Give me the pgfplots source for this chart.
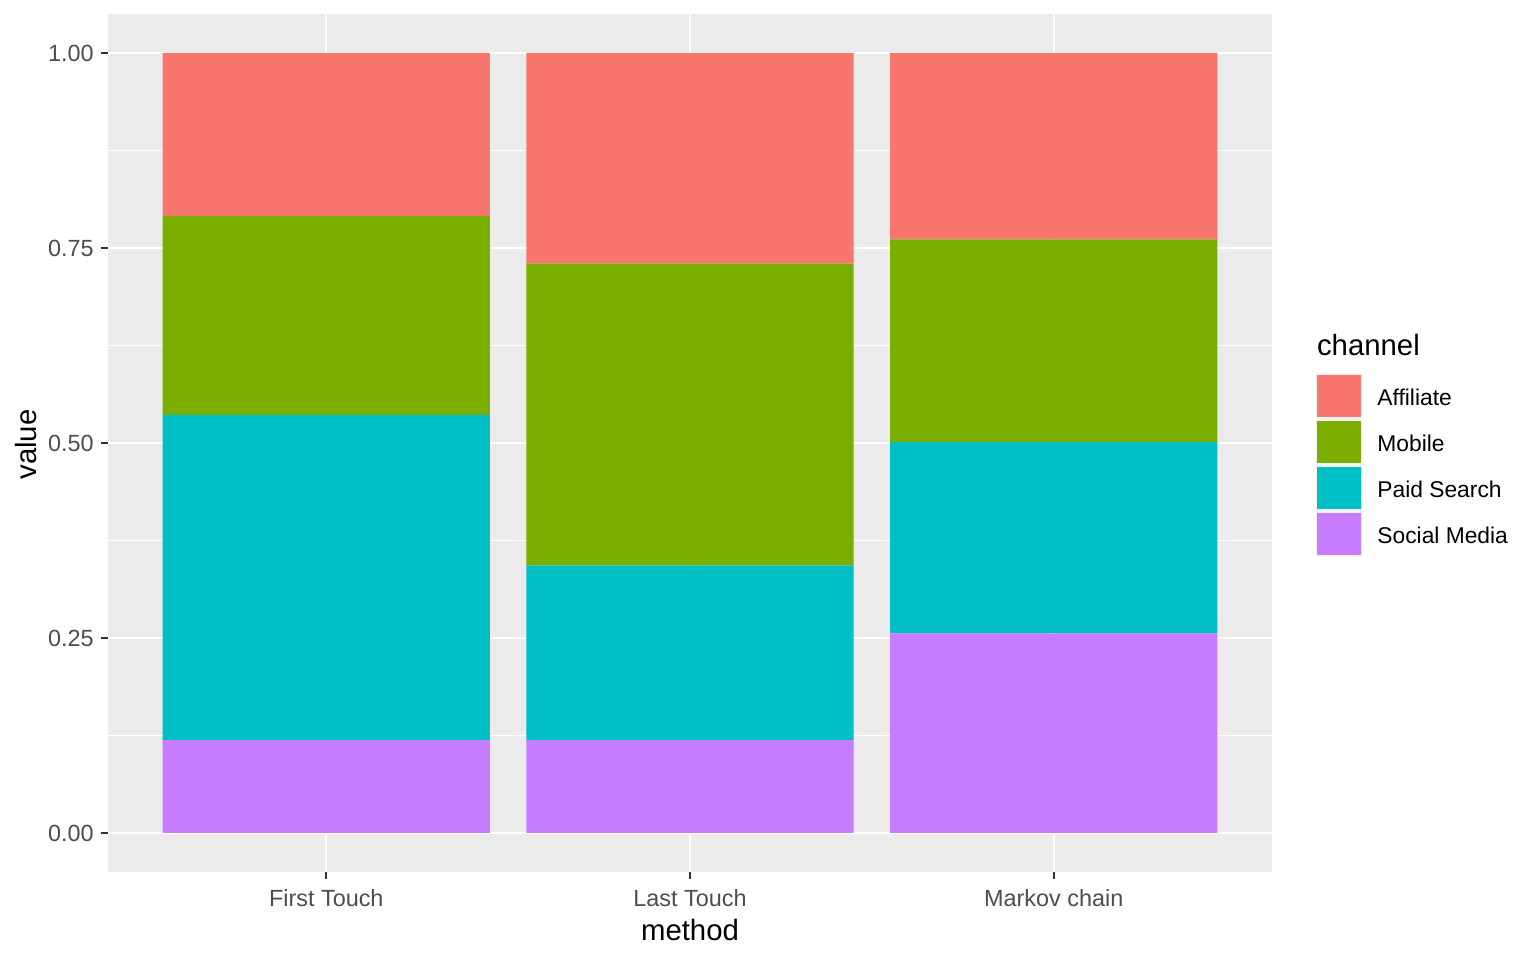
\documentclass[border=0pt]{standalone}
\usepackage{pgfplots}
\pgfplotsset{compat=1.18}
\usepackage{fontspec}
\setmainfont{Liberation Sans}
\definecolor{affil}{HTML}{F8766D}
\definecolor{mobile}{HTML}{7CAE00}
\definecolor{paid}{HTML}{00BFC4}
\definecolor{social}{HTML}{C77CFF}
\definecolor{panelbg}{HTML}{EBEBEB}
\definecolor{keybg}{HTML}{F2F2F2}
\definecolor{tickgrey}{HTML}{333333}
\definecolor{labgrey}{HTML}{4D4D4D}
\begin{document}
\begin{tikzpicture}[x=1bp,y=1bp]
\path[use as bounding box] (0,0) rectangle (768,480);
\begin{axis}[
  at={(54bp,44bp)}, anchor=south west,
  scale only axis, width=582bp, height=429bp,
  xmin=-0.6, xmax=2.6, ymin=-0.05, ymax=1.05,
  ybar stacked, bar width=0.9,
  xtick={0,1,2}, xticklabels={First Touch, Last Touch, Markov chain},
  ytick={0,0.25,0.5,0.75,1},
  minor ytick={0.125,0.375,0.625,0.875},
  yticklabel style={/pgf/number format/.cd, fixed, fixed zerofill, precision=2},
  xticklabel style={yshift=-1.5bp},
  /pgf/number format/assume math mode=true,
  grid=both,
  major grid style={white, line width=1.2bp},
  minor grid style={white, line width=0.6bp},
  axis background/.style={fill=panelbg},
  axis line style={draw=none},
  tick align=outside,
  tick pos=left,
  major tick length=3.67bp, minor tick length=0pt,
  every tick/.style={draw=tickgrey, line width=1.1bp},
  every major tick/.style={draw=tickgrey, line width=1.1bp},
  ticklabel style={font=\fontsize{11.7bp}{13bp}\selectfont, text=labgrey},
]
\addplot[fill=social, draw=none] coordinates {(0,0.119) (1,0.119) (2,0.256)};
\addplot[fill=paid, draw=none] coordinates {(0,0.417) (1,0.224) (2,0.2455)};
\addplot[fill=mobile, draw=none] coordinates {(0,0.255) (1,0.387) (2,0.2595)};
\addplot[fill=affil, draw=none] coordinates {(0,0.209) (1,0.270) (2,0.239)};
\end{axis}
% axis titles
\node[anchor=base, inner sep=0pt, font=\fontsize{14.67bp}{16bp}\selectfont] at (345,9.5) {method};
\node[anchor=base, inner sep=0pt, rotate=90, font=\fontsize{14.67bp}{16bp}\selectfont] at (18,257.75) {value};
% legend
\node[anchor=base west, inner sep=0pt, font=\fontsize{14.67bp}{16bp}\selectfont] at (658.3,302) {channel};
\fill[keybg] (658,201.5) rectangle (681,293.5);
\fill[affil]  (658.5,271.65) rectangle (680.5,292.5);
\fill[mobile] (658.5,248.65) rectangle (680.5,269.5);
\fill[paid]   (658.5,225.65) rectangle (680.5,246.5);
\fill[social] (658.5,202.65) rectangle (680.5,223.5);
\begin{scope}[every node/.style={anchor=base west, inner sep=0pt, font=\fontsize{11.4bp}{13bp}\selectfont}]
\node at (688.5,277.2) {Affiliate};
\node at (688.5,254.2) {Mobile};
\node at (688.5,231.2) {Paid Search};
\node at (688.5,208.2) {Social Media};
\end{scope}
\end{tikzpicture}
\end{document}
